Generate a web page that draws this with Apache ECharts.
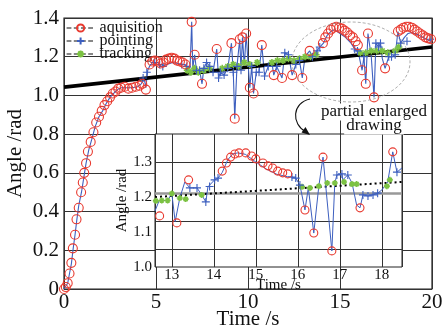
<!DOCTYPE html>
<html>
<head>
<meta charset="utf-8">
<script src="https://cdn.jsdelivr.net/npm/echarts@6.0.0/dist/echarts.min.js"></script>
<style>
  html, body { margin: 0; padding: 0; background: #fff; }
  #chart { width: 444px; height: 330px; }
</style>
</head>
<body>
<div id="chart"></div>
<script>
const FONT = "Liberation Serif"
const BLUE = "#3d5fbf"
const RED = "#e8392f"
const GREEN = "#7cc243"

// main plot, 0-20 s
const refLine = [[0, 1.043], [20, 1.25]]
const mainPath = [
  [0,0],[0.1,0.01],[0.2,0.03],[0.3,0.08],[0.4,0.13],[0.5,0.21],[0.6,0.28],[0.7,0.36],[0.8,0.43],[0.95,0.5],
  [1.05,0.56],[1.2,0.65],[1.35,0.72],[1.5,0.77],[1.7,0.84],[1.9,0.89],[2.1,0.92],[2.3,0.96],[2.5,0.99],[2.7,1.01],
  [2.9,1.03],[3.1,1.04],[3.4,1.04],[3.7,1.04],[4.0,1.045],[4.2,1.06],[4.35,1.09],[4.45,1.04],[4.55,1.13],[4.7,1.16],
  [5.0,1.165],[5.3,1.15],[5.6,1.16],[5.9,1.17],[6.2,1.165],[6.5,1.16],[6.7,1.15],[6.85,1.14],[6.94,1.38],[7.0,1.14],
  [7.1,1.21],[7.2,1.13],[7.37,1.13],[7.5,1.06],[7.6,1.14],[7.75,1.17],[7.92,1.15],[8.1,1.12],[8.3,1.24],[8.4,1.09],
  [8.5,1.12],[8.7,1.105],[8.9,1.14],[9.1,1.27],[9.2,1.12],[9.28,0.88],[9.4,1.15],[9.55,1.29],[9.62,1.13],[9.7,1.3],
  [9.8,1.15],[9.9,1.32],[10.0,1.17],[10.1,1.04],[10.2,1.15],[10.3,1.01],[10.45,1.12],[10.6,1.12],[10.75,1.26],[10.9,1.1],
  [11.1,1.15],[11.3,1.17],[11.4,1.105],[11.56,1.15],[11.85,1.09],[12.0,1.22],[12.2,1.21],[12.4,1.105],[12.6,1.16],[12.8,1.18],
  [12.95,1.09],[13.1,1.2],[13.35,1.23],[13.5,1.2],[13.75,1.23],[13.9,1.25],[14.1,1.27],[14.3,1.31],[14.5,1.33],[14.7,1.34],
  [15.0,1.32],[15.3,1.3],[15.6,1.27],[15.8,1.24],[16.0,1.22],[16.2,1.13],[16.3,1.2],[16.4,1.06],[16.52,1.32],[16.7,1.2],
  [16.85,0.99],[16.95,1.27],[17.1,1.25],[17.2,1.27],[17.3,1.19],[17.45,1.14],[17.65,1.2],[17.8,1.2],[18.0,1.21],[18.1,1.22],
  [18.15,1.33],[18.3,1.27],[18.5,1.3],[18.7,1.32],[18.9,1.325],[19.2,1.315],[19.5,1.3],[19.8,1.285],[20,1.28]
]
const acquisition = [
  [0,0],[0.1,0.01],[0.2,0.03],[0.3,0.08],[0.4,0.135],[0.48,0.21],[0.6,0.28],[0.68,0.36],[0.8,0.42],[0.93,0.5],
  [1.02,0.55],[1.1,0.6],[1.2,0.65],[1.3,0.71],[1.45,0.76],[1.6,0.81],[1.75,0.86],[1.9,0.89],[2.05,0.92],[2.2,0.95],
  [2.35,0.97],[2.5,0.99],[2.65,1.01],[2.8,1.02],[2.95,1.035],[3.1,1.04],[3.3,1.045],[3.5,1.035],[3.7,1.04],[3.9,1.045],
  [4.1,1.05],[4.25,1.06],[4.45,1.03],[4.65,1.16],[4.8,1.175],[4.95,1.18],[5.1,1.175],[5.25,1.165],[5.4,1.17],[5.55,1.185],
  [5.7,1.19],[5.85,1.195],[6.0,1.19],[6.15,1.18],[6.3,1.175],[6.45,1.17],[6.6,1.16],[6.94,1.38],[7.1,1.21],[7.5,1.06],
  [8.3,1.24],[9.1,1.27],[9.28,0.88],[9.55,1.29],[9.7,1.3],[9.9,1.32],[10.1,1.04],[10.3,1.01],[10.75,1.26],[11.4,1.105],
  [11.85,1.09],[12.4,1.105],[12.95,1.09],[13.35,1.23],[14.07,1.27],[14.2,1.3],[14.35,1.32],[14.5,1.34],[14.65,1.35],[14.8,1.355],
  [14.95,1.35],[15.1,1.345],[15.25,1.335],[15.4,1.325],[15.55,1.31],[15.7,1.3],[15.85,1.28],[15.97,1.26],[16.2,1.13],[16.4,1.06],
  [16.52,1.32],[16.85,0.99],[17.45,1.14],[18.15,1.33],[18.3,1.34],[18.45,1.35],[18.6,1.355],[18.75,1.355],[18.9,1.35],[19.05,1.34],
  [19.2,1.33],[19.35,1.32],[19.5,1.31],[19.65,1.3],[19.8,1.295],[19.95,1.29]
]
const pointing = [
  [4.3,1.09],[4.5,1.12],[4.93,1.17],[5.2,1.16],[5.37,1.15],[6.4,1.16],[6.67,1.15],[7.2,1.13],[7.37,1.13],[7.6,1.14],
  [7.75,1.17],[7.92,1.15],[8.1,1.12],[8.4,1.09],[8.5,1.12],[8.7,1.105],[8.9,1.14],[9.2,1.12],[9.4,1.15],[9.62,1.13],
  [10.2,1.15],[10.45,1.12],[10.6,1.12],[10.9,1.1],[11.1,1.15],[11.56,1.15],[12.0,1.22],[12.2,1.21],[12.6,1.16],[12.8,1.18],
  [13.5,1.2],[13.75,1.23],[13.9,1.25],[15.8,1.24],[15.95,1.23],[16.3,1.2],[16.95,1.27],[17.1,1.25],[17.2,1.27],[17.65,1.2],
  [17.8,1.2],[18.0,1.21],[18.3,1.27],[18.64,1.28],[19.9,1.29]
]
const tracking = [
  [6.7,1.13],[6.9,1.12],[7.1,1.14],[7.3,1.12],[7.6,1.13],[7.9,1.14],[8.6,1.14],[8.9,1.15],[9.2,1.16],[9.5,1.15],
  [9.8,1.17],[10.1,1.16],[10.5,1.17],[11.3,1.17],[11.6,1.18],[11.9,1.18],[12.2,1.19],[12.5,1.18],[12.8,1.19],[13.1,1.2],
  [13.4,1.2],[13.7,1.21],[16.1,1.22],[16.4,1.22],[16.7,1.23],[17.0,1.23],[17.3,1.23],[17.6,1.22],[18.0,1.23],[18.2,1.25]
]

// partial enlarged drawing, 12.6-18.48 s
const zoomRef = [[12.6, 1.2], [18.48, 1.243]]
const zoomPath = [
  [12.6,1.16],[12.7,1.19],[12.9,1.19],[13.0,1.21],[13.08,1.13],[13.19,1.197],[13.31,1.243],[13.43,1.226],[13.6,1.226],[13.71,1.206],
  [13.81,1.186],[13.86,1.229],[14.02,1.249],[14.1,1.254],[14.2,1.27],[14.33,1.306],[14.45,1.323],[14.57,1.326],[14.75,1.322],[15.0,1.3],
  [15.25,1.28],[15.5,1.265],[15.75,1.258],[15.86,1.257],[15.95,1.254],[16.05,1.234],[16.17,1.163],[16.25,1.226],[16.38,1.097],[16.5,1.231],
  [16.6,1.314],[16.81,1.046],[16.88,1.24],[16.93,1.263],[17.05,1.266],[17.07,1.249],[17.19,1.263],[17.29,1.24],[17.4,1.177],[17.48,1.169],
  [17.55,1.206],[17.67,1.203],[17.79,1.206],[17.9,1.211],[18.0,1.22],[18.14,1.243],[18.26,1.329],[18.36,1.271],[18.48,1.283]
]
const zoomAcq = [
  [12.71,1.146],[13.12,1.126],[13.4,1.249],[14.2,1.274],[14.3,1.297],[14.4,1.314],[14.5,1.323],[14.6,1.326],[14.76,1.326],[14.9,1.317],
  [15.0,1.309],[15.17,1.297],[15.29,1.289],[15.4,1.283],[15.52,1.274],[15.64,1.269],[15.76,1.266],[16.17,1.163],[16.38,1.097],[16.6,1.314],
  [16.81,1.046],[17.48,1.169],[18.26,1.329]
]
const zoomPoint = [
  [13.43,1.226],[13.6,1.226],[13.81,1.186],[13.9,1.23],[14.02,1.249],[14.1,1.254],[15.86,1.257],[15.95,1.254],[16.05,1.234],[16.93,1.263],
  [17.05,1.266],[17.19,1.263],[17.55,1.206],[17.67,1.203],[17.79,1.206],[17.9,1.211],[18.36,1.271]
]
const zoomTrack = [
  [12.62,1.189],[12.76,1.19],[12.9,1.19],[13.0,1.21],[13.19,1.197],[13.33,1.194],[13.71,1.206],[16.1,1.229],[16.29,1.226],[16.5,1.231],
  [16.7,1.24],[16.88,1.24],[17.1,1.243],[17.29,1.237],[17.4,1.237],[18.12,1.231],[18.19,1.249]
]
const zoomGuides = [1.049, 1.131, 1.303]
const zoomGrayGuide = 1.214

const plusPath = "path://M5,0L5,10M0,5L10,5"
const starPath = "path://M5,0L5,10M0,5L10,5M1.6,1.6L8.4,8.4M8.4,1.6L1.6,8.4"

const chart = echarts.init(document.getElementById("chart"), null, { renderer: "canvas" })

const txt = (size) => ({ fontFamily: FONT, fontSize: size, color: "#111" })

const markerSeries = (name, data, gi, kind, size, z) => {
  const s = {
    type: "line", name, data, xAxisIndex: gi, yAxisIndex: gi, z,
    symbolSize: size, lineStyle: { opacity: 0 }, animation: false,
  }
  if (kind === "circle") {
    s.symbol = "circle"
    s.itemStyle = { color: "rgba(255,255,255,0)", borderColor: RED, borderWidth: 1.1 }
  } else if (kind === "plus") {
    s.symbol = plusPath
    s.itemStyle = { color: BLUE, borderColor: BLUE, borderWidth: 1.1 }
  } else {
    s.symbol = starPath
    s.itemStyle = { color: GREEN, borderColor: GREEN, borderWidth: 1.6 }
  }
  return s
}

chart.setOption({
  animation: false,
  backgroundColor: "#fff",
  grid: [
    { left: 64, right: 12, top: 18, bottom: 41, outerBoundsMode: "none", containLabel: false, show: true, borderColor: "#222", borderWidth: 1.2, backgroundColor: "transparent" },
    { left: 155, top: 134, width: 247, height: 133, outerBoundsMode: "none", containLabel: false, show: true, borderColor: "#222", borderWidth: 1, backgroundColor: "#fff", z: 3 },
  ],
  xAxis: [
    {
      type: "value", gridIndex: 0, min: 0, max: 20, interval: 5,
      axisLine: { show: false }, axisTick: { show: false },
      splitLine: { show: true, lineStyle: { color: "#333", width: 1 } },
      axisLabel: { ...txt(21), margin: 3 },
      name: "Time /s", nameLocation: "middle", nameGap: 20, nameMoveOverlap: false, nameTextStyle: txt(21),
    },
    {
      type: "value", gridIndex: 1, min: 12.6, max: 18.48, z: 4,
      axisLine: { show: false }, axisTick: { show: false },
      splitLine: { show: true, lineStyle: { color: "#333", width: 1 } },
      axisLabel: { ...txt(15), margin: 1, formatter: (v) => (Math.abs(v - Math.round(v)) < 1e-6 ? String(Math.round(v)) : "") },
      name: "Time /s", nameLocation: "middle", nameGap: 11, nameMoveOverlap: false, nameTextStyle: txt(15),
    },
  ],
  yAxis: [
    {
      type: "value", gridIndex: 0, min: 0, max: 1.4, interval: 0.2,
      axisLine: { show: false }, axisTick: { show: false },
      splitLine: { show: true, lineStyle: { color: "#333", width: 1 } },
      axisLabel: { ...txt(21), margin: 5, formatter: (v) => (v === 0 ? "0" : v.toFixed(1)) },
      name: "Angle /rad", nameLocation: "middle", nameGap: 38, nameMoveOverlap: false, nameTextStyle: txt(21),
    },
    {
      type: "value", gridIndex: 1, min: 1.0, max: 1.38, interval: 0.1, z: 4,
      axisLine: { show: false }, axisTick: { show: false }, splitLine: { show: false },
      axisLabel: { ...txt(15), margin: 3, showMaxLabel: false, formatter: (v) => v.toFixed(1) },
      name: "Angle /rad", nameLocation: "middle", nameGap: 25, nameMoveOverlap: false, nameTextStyle: txt(15),
    },
  ],
  legend: {
    data: ["aquisition", "pointing", "tracking"],
    orient: "vertical", left: 66, top: 20, padding: 0,
    itemWidth: 28, itemHeight: 9, itemGap: -3,
    textStyle: { ...txt(16), lineHeight: 13 },
    lineStyle: { color: "#111", width: 1.2, type: "dashed", opacity: 1 },
  },
  graphic: [
    {
      type: "ellipse", z: 10, silent: true,
      shape: { cx: 351, cy: 62, rx: 59, ry: 40 },
      style: { fill: "none", stroke: "#9a9a9a", lineWidth: 0.8, lineDash: [3, 2] },
    },
    {
      type: "bezierCurve", z: 10, silent: true,
      shape: { x1: 310, y1: 99, cpx1: 292, cpy1: 103, cpx2: 291, cpy2: 124, x2: 306, y2: 132 },
      style: { fill: "none", stroke: "#111", lineWidth: 1.1 },
    },
    {
      type: "polygon", z: 10, silent: true,
      shape: { points: [[310, 135], [301.5, 132.5], [305.5, 127]] },
      style: { fill: "#111" },
    },
    {
      type: "text", z: 10, silent: true, x: 374, y: 112,
      style: { text: "partial enlarged", font: "17px " + FONT, fill: "#111", align: "center", verticalAlign: "middle", backgroundColor: "#fff", padding: [0, 2] },
    },
    {
      type: "text", z: 10, silent: true, x: 374, y: 126,
      style: { text: "drawing", font: "17px " + FONT, fill: "#111", align: "center", verticalAlign: "middle", backgroundColor: "#fff", padding: [0, 2] },
    },
  ],
  series: [
    { type: "line", name: "path", data: mainPath, xAxisIndex: 0, yAxisIndex: 0, symbol: "none", lineStyle: { color: BLUE, width: 1.1 }, z: 2 },
    { type: "line", name: "reference", data: refLine, xAxisIndex: 0, yAxisIndex: 0, symbol: "none", lineStyle: { color: "#000", width: 3.6 }, z: 3 },
    markerSeries("tracking", tracking, 0, "star", 7, 4),
    markerSeries("pointing", pointing, 0, "plus", 8, 4),
    markerSeries("aquisition", acquisition, 0, "circle", 9, 4),

    {
      type: "line", name: "guides", data: [], xAxisIndex: 1, yAxisIndex: 1, z: 4,
      markLine: {
        silent: true, symbol: "none", label: { show: false }, animation: false,
        lineStyle: { color: "#333", width: 1, type: "solid" },
        data: [
          ...zoomGuides.map((v) => ({ yAxis: v })),
          { yAxis: zoomGrayGuide, lineStyle: { color: "#999", width: 2.5, type: "solid" } },
        ],
      },
    },
    { type: "line", name: "zoomRef", data: zoomRef, xAxisIndex: 1, yAxisIndex: 1, symbol: "none", lineStyle: { color: "#000", width: 2, type: [2, 3] }, z: 6 },
    { type: "line", name: "zoomPath", data: zoomPath, xAxisIndex: 1, yAxisIndex: 1, symbol: "none", lineStyle: { color: BLUE, width: 1 }, z: 6 },
    markerSeries("tracking", zoomTrack, 1, "star", 6, 7),
    markerSeries("pointing", zoomPoint, 1, "plus", 8, 7),
    markerSeries("aquisition", zoomAcq, 1, "circle", 8, 7),
  ],
})
</script>
</body>
</html>
